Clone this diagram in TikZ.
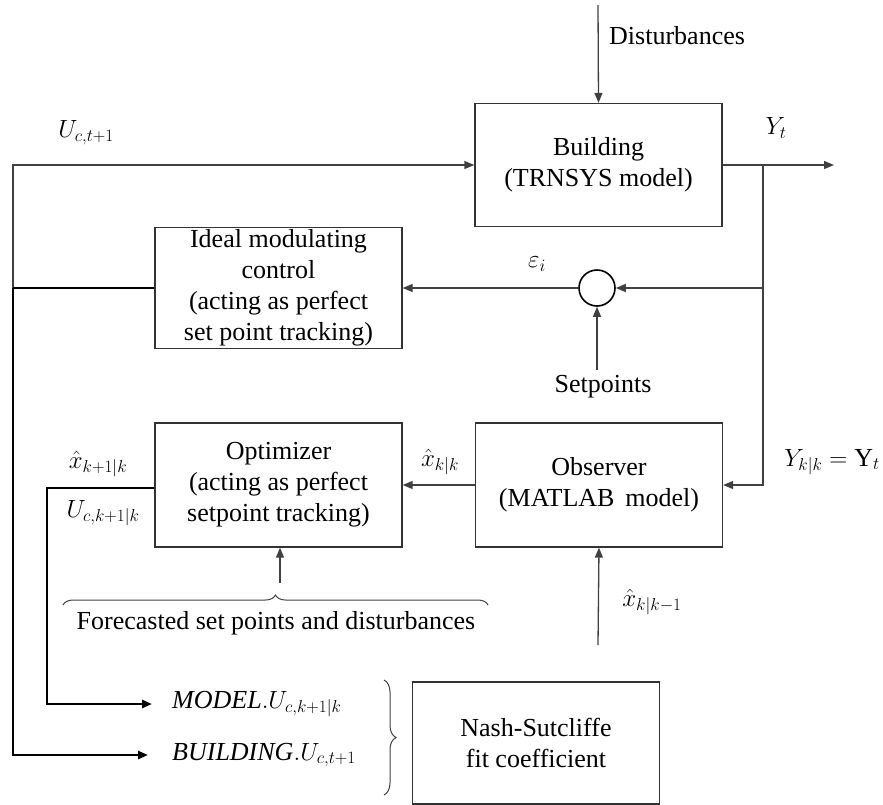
\documentclass[tikz,border=0pt]{standalone}
\usepackage{amsmath}
\usepackage{fontspec}
\setmainfont{Liberation Serif}
\usetikzlibrary{arrows.meta}
\usetikzlibrary{positioning}
\usetikzlibrary{decorations.pathreplacing}
\tikzset{
    >={Triangle[length=10pt,width=8pt]},
    txt/.style={font=\fontsize{26}{31}\selectfont, inner sep=0pt},
    block/.style={draw=black!80, line width=1.3pt, minimum width=247pt,
        minimum height=123pt, align=center, txt},
    signal/.style={draw=black!75, line width=1.3pt},
    thicksignal/.style={draw=black, line width=2.6pt},
    sumnode/.style={draw=black, line width=1.6pt, circle, minimum size=36pt, inner sep=0pt},
}

\begin{document}
\begin{tikzpicture}[x=1pt, y=-1pt]
\useasboundingbox (0,0) rectangle (883,804);
% blocks
\node[block] (building) at (598.5,165) {Building\\(TRNSYS model)};
\node[block, minimum height=121pt] (ideal) at (278.5,288) {Ideal modulating\\control\\(acting as perfect\\set point tracking)};
\node[block, minimum height=124pt] (optimizer) at (278.5,485) {Optimizer\\(acting as perfect\\setpoint tracking)};
\node[block, minimum height=124pt] (observer) at (599,485) {Observer\\(MATLAB\, model)};
\node[block, minimum height=122pt] (nash) at (536,743) {Nash-Sutcliffe\\fit coefficient};
\node[sumnode] (sum) at (597,288) {};

% labels
\node[txt, anchor=west] (dist) at (609,36) {Disturbances};
\node[txt] (yt) at (776,128) {$Y_t$};
\node[txt] (uct) at (86,133) {$U_{c,t+1}$};
\node[txt] (eps) at (537,264) {$\varepsilon_i$};
\node[txt] (setpts) at (603,387) {Setpoints};
\node[txt] (xkk) at (440,462) {$\hat{x}_{k|k}$};
\node[txt] (ykk) at (832,462) {$Y_{k|k}=\mathrm{Y}_t$};
\node[txt] (xkk1) at (652,602) {$\hat{x}_{k|k-1}$};
\node[txt] (xk1) at (98,464) {$\hat{x}_{k+1|k}$};
\node[txt] (uck1) at (103,513) {$U_{c,k+1|k}$};
\node[txt] (forecast) at (276,623) {Forecasted set points and disturbances};
\node[txt, anchor=west] (model) at (172,704) {$\mathit{MODEL}.U_{c,k+1|k}$};
\node[txt, anchor=west] (bldg) at (172,755) {$\mathit{BUILDING}.U_{c,t+1}$};

% helper points
\coordinate (top) at (598,5);
\coordinate (out) at (834,165);
\coordinate (branch) at (763,165);
\coordinate (leftA) at (13,288);
\coordinate (leftB) at (47,488);
\coordinate (fcst) at (280,583);
\coordinate (obsin) at (598,645);
\coordinate (spin) at (597,370);

% connectors
\draw[signal, ->] (top) -- (building.north);
\draw[signal, ->] (building.east) -- (out);
\draw[signal, ->] (branch) |- (sum.east);
\draw[signal, ->] (branch) |- (observer.east);
\draw[signal, ->] (sum.west) -- (ideal.east);
\draw[signal, ->] (spin) -- (sum.south);
\draw[signal, ->] (observer.west) -- (optimizer.east |- observer.west);
\draw[signal, ->] (fcst) -- (fcst |- optimizer.south);
\draw[signal, ->] (obsin) -- (observer.south);
\draw[signal, ->] (leftA) |- (building.west);
\draw[thicksignal] (ideal.west) -- (leftA);
\draw[thicksignal, ->] (leftA) |- ([xshift=-24pt]bldg.west);
\draw[thicksignal, ->] (optimizer.west |- leftB) -- (leftB) |- ([xshift=-20pt]model.west);

% braces
\draw[signal, line width=1pt, decorate, decoration={brace, amplitude=10pt}]
    (63,605) -- (488,605);
\draw[signal, line width=1pt, decorate, decoration={brace, amplitude=12pt}]
    (384,680) -- (384,795);
\end{tikzpicture}
\end{document}
